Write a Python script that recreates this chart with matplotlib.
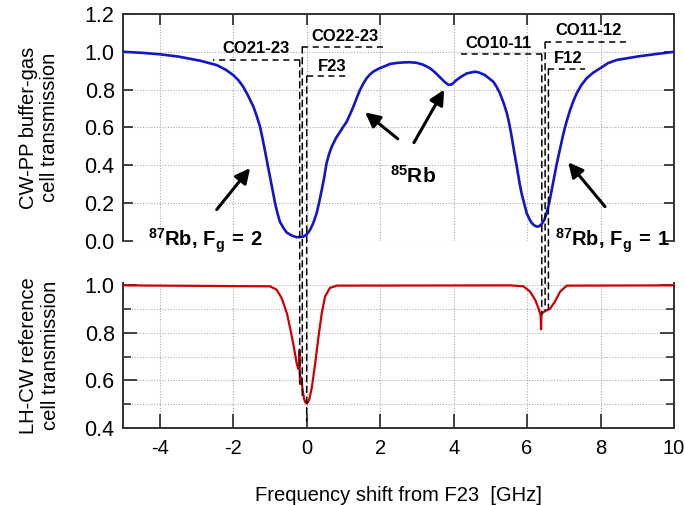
import matplotlib.pyplot as plt
from matplotlib.patches import ConnectionPatch
from matplotlib.ticker import MultipleLocator

plt.rcParams.update({'font.family': 'Liberation Sans', 'font.size': 14,
                     'axes.unicode_minus': False,
                     'mathtext.fontset': 'custom',
                     'mathtext.rm': 'Liberation Sans',
                     'mathtext.bf': 'Liberation Sans:bold',
                     'mathtext.it': 'Liberation Sans:italic'})

# CW-PP buffer-gas cell transmission (blue)
blue_x = [-5.0, -4.5, -4.0, -3.5, -2.9, -2.45, -2.2, -2.0, -1.86, -1.73, -1.6, -1.45, -1.36,
          -1.27, -1.2, -1.14, -1.07, -1.0, -0.93, -0.86, -0.8, -0.73, -0.63, -0.54, -0.4,
          -0.27, -0.09, 0.0, 0.09, 0.18, 0.27, 0.34, 0.41, 0.48, 0.54, 0.61, 0.68, 0.8, 0.91,
          1.0, 1.09, 1.18, 1.27, 1.36, 1.45, 1.54, 1.63, 1.72, 1.81, 1.95, 2.09, 2.27, 2.45,
          2.63, 2.8, 2.99, 3.17, 3.36, 3.5, 3.63, 3.75, 3.86, 3.95, 4.08, 4.2, 4.36, 4.58,
          4.7, 4.85, 4.95, 5.08, 5.17, 5.26, 5.36, 5.45, 5.52, 5.58, 5.65, 5.72, 5.8, 5.85,
          5.99, 6.06, 6.13, 6.2, 6.26, 6.33, 6.40, 6.47, 6.53, 6.6, 6.67, 6.74, 6.81, 6.9,
          6.99, 7.08, 7.17, 7.26, 7.35, 7.48, 7.62, 7.8, 7.99, 8.2, 8.44, 9.0, 9.5, 10.0]
blue_y = [1.0, 0.995, 0.987, 0.975, 0.953, 0.930, 0.905, 0.877, 0.85, 0.816, 0.77, 0.710, 0.66,
          0.604, 0.54, 0.481, 0.41, 0.340, 0.27, 0.199, 0.15, 0.102, 0.068, 0.044, 0.028,
          0.020, 0.023, 0.035, 0.058, 0.095, 0.146, 0.205, 0.270, 0.34, 0.411, 0.46, 0.498, 0.545, 0.578,
          0.605, 0.631, 0.67, 0.710, 0.755, 0.798, 0.832, 0.860, 0.88, 0.895, 0.91, 0.921, 0.936, 0.941,
          0.944, 0.945, 0.942, 0.932, 0.913, 0.89, 0.865, 0.842, 0.825, 0.828, 0.851, 0.868, 0.886, 0.895,
          0.89, 0.877, 0.862, 0.842, 0.815, 0.781, 0.73, 0.675, 0.615, 0.551, 0.47, 0.393, 0.30, 0.252,
          0.146, 0.117, 0.094, 0.082, 0.076, 0.078, 0.090, 0.112, 0.146, 0.2, 0.270, 0.34, 0.411, 0.49,
          0.569, 0.635, 0.692, 0.74, 0.781, 0.825, 0.860, 0.89, 0.913, 0.94, 0.957, 0.975, 0.988, 1.0]

# LH-CW reference cell transmission (red)
red_x = [-5.0, -1.0, -0.82, -0.68, -0.54, -0.44, -0.35, -0.27, -0.23, -0.21, -0.20, -0.19,
         -0.18, -0.155, -0.14, -0.12, -0.07, -0.035, 0.0, 0.035, 0.07, 0.14, 0.23, 0.32, 0.41,
         0.50, 0.63, 0.82, 5.54, 5.90, 6.08, 6.22, 6.31, 6.35, 6.37, 6.38, 6.39, 6.41, 6.49,
         6.62, 6.76, 6.90, 7.08, 10.0]
red_y = [1.0, 0.996, 0.982, 0.946, 0.883, 0.812, 0.741, 0.670, 0.649, 0.66, 0.727, 0.64,
         0.585, 0.613, 0.60, 0.571, 0.521, 0.508, 0.503, 0.508, 0.521, 0.571, 0.670, 0.783, 0.883,
         0.953, 0.989, 0.999, 1.0, 0.996, 0.974, 0.939, 0.904, 0.883, 0.875, 0.815, 0.875, 0.883,
         0.892, 0.901, 0.932, 0.974, 0.999, 1.0]

# transition / crossover markers
mark_names = ['CO21-23', 'CO22-23', 'F23', 'CO10-11', 'CO11-12', 'F12']
mark_x = [-0.19, -0.12, 0.0, 6.40, 6.49, 6.58]
mark_top = [0.955, 1.026, 0.871, 0.986, 1.051, 0.910]
mark_end = [-2.54, 2.13, 1.18, 4.08, 8.71, 7.58]
mark_low = [0.59, 0.53, 0.43, 0.88, 0.895, 0.90]
name_x = [-1.37, 1.04, 0.69, 5.22, 7.66, 7.12]
name_y = [1.02, 1.083, 0.925, 1.043, 1.115, 0.964]

fig = plt.figure(figsize=(6.85, 5.05), dpi=100)
ax1 = fig.add_axes([0.1796, 0.5228, 0.8044, 0.4495])
ax2 = fig.add_axes([0.1796, 0.1525, 0.8044, 0.2871])

spine_col = '#333333'
grid_kw = dict(color='#aaaaaa', linestyle=(0, (1, 1.5)), linewidth=0.8)

ax1.plot(blue_x, blue_y, color='#1414c8', lw=1.9, zorder=3)
ax1.set_xlim(-5, 10)
ax1.set_ylim(0, 1.2)
ax1.xaxis.set_major_locator(MultipleLocator(2))
ax1.grid(True, **grid_kw)
ax1.spines['bottom'].set_visible(False)
ax1.tick_params(axis='x', which='both', bottom=False, top=True, labelbottom=False,
                direction='in', length=8, width=1.3, color=spine_col)
ax1.tick_params(axis='y', which='both', left=True, right=True, direction='in',
                length=7, width=1.3, color=spine_col)
ax1.set_yticks([0, 0.2, 0.4, 0.6, 0.8, 1.0, 1.2])
ax1.set_yticklabels(['0.0', '0.2', '0.4', '0.6', '0.8', '1.0', '1.2'])
ax1.set_ylabel('CW-PP buffer-gas\ncell transmission', fontsize=14.5, labelpad=18,
               linespacing=1.15)

ax2.plot(red_x, red_y, color='#cc0000', lw=1.6, zorder=3)
ax2.set_xlim(-5, 10)
ax2.set_ylim(0.4, 1.01)
ax2.yaxis.set_minor_locator(MultipleLocator(0.1))
ax2.grid(True, which='both', **grid_kw)
ax2.spines['top'].set_visible(False)
ax2.tick_params(axis='x', which='both', top=False, direction='in', length=10,
                width=1.3, color=spine_col)
ax2.tick_params(axis='y', which='major', left=True, right=True, direction='in',
                length=10, width=1.3, color=spine_col)
ax2.tick_params(axis='y', which='minor', left=True, right=True, direction='in',
                length=6, width=1.2, color=spine_col)
ax2.set_xticks([-4, -2, 0, 2, 4, 6, 8, 10])
ax2.set_yticks([0.4, 0.6, 0.8, 1.0])
ax2.set_yticklabels(['0.4', '0.6', '0.8', '1.0'])
ax2.set_ylabel('LH-CW reference\ncell transmission', fontsize=14.5, labelpad=18,
               linespacing=1.15)
ax2.set_xlabel('Frequency shift from F23  [GHz]', fontsize=14.5, labelpad=20)

for ax in (ax1, ax2):
    for s in ax.spines.values():
        s.set_color(spine_col)
        s.set_linewidth(1.4)
    ax.tick_params(axis='x', labelsize=14.5, pad=8)
    ax.tick_params(axis='y', labelsize=15.5, pad=6)

# dashed markers
for i in range(len(mark_names)):
    ax1.plot([mark_x[i], mark_end[i]], [mark_top[i], mark_top[i]], color='black',
             ls=(0, (4, 3)), lw=1.1, zorder=4)
    con = ConnectionPatch(xyA=(mark_x[i], mark_top[i]), coordsA=ax1.transData,
                          xyB=(mark_x[i], mark_low[i]), coordsB=ax2.transData,
                          color='black', ls=(0, (4, 3)), lw=1.1, zorder=5)
    fig.add_artist(con)
    ax1.text(name_x[i], name_y[i], mark_names[i], ha='center', va='center',
             fontsize=12, fontweight='bold')

arrow_kw = dict(arrowstyle='-|>', color='black', lw=2.2, mutation_scale=22,
                shrinkA=0, shrinkB=0)
ax1.annotate('', xy=(-1.54, 0.385), xytext=(-2.45, 0.166), arrowprops=arrow_kw)
ax1.annotate('', xy=(1.59, 0.68), xytext=(2.48, 0.54), arrowprops=arrow_kw)
ax1.annotate('', xy=(3.74, 0.80), xytext=(2.92, 0.52), arrowprops=arrow_kw)
ax1.annotate('', xy=(7.12, 0.416), xytext=(8.12, 0.182), arrowprops=arrow_kw)

ax1.text(-4.31, -0.03, r'$\mathbf{{}^{87}Rb,\,F_{g}\:=\:2}$', fontsize=14.5,
         ha='left', va='baseline', zorder=6)
ax1.text(2.27, 0.31, r'$\mathbf{{}^{85}Rb}$', fontsize=15, ha='left', va='baseline')
ax1.text(6.76, -0.03, r'$\mathbf{{}^{87}Rb,\,F_{g}\:=\:1}$', fontsize=14.5,
         ha='left', va='baseline', zorder=6)

plt.savefig('out.png', dpi=100)
